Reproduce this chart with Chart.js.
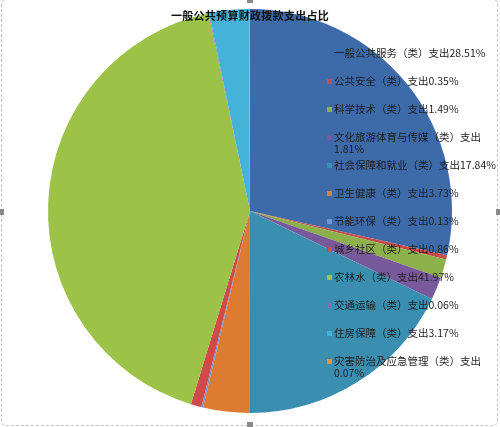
<!DOCTYPE html>
<html>
<head>
<meta charset="utf-8">
<script src="https://cdn.jsdelivr.net/npm/chart.js@4/dist/chart.umd.min.js"></script>
<style>
  html, body { margin: 0; padding: 0; background: #fff; }
  #wrap { position: relative; width: 500px; height: 427px; overflow: hidden; }
  #wrap canvas { position: absolute; left: 0; top: 0; }
  .frame { position: absolute; left: 1px; top: -1px; width: 497px; height: 427px;
           border: 1px dashed #c4c4c4; border-radius: 5px; box-sizing: border-box; }
  .handle { position: absolute; background: #8a8a8a; }
  .titulo { position: absolute; left: 0; width: 500px; top: 7px; text-align: center;
            font: bold 11px "Noto Sans CJK SC", sans-serif; color: #111; letter-spacing: 0.3px; }
  .item { position: absolute; left: 327px; width: 170px; }
  .item .mk { position: absolute; left: 0; top: 4px; width: 5px; height: 5px; }
  .item .tx { margin-left: 7px; font: 10.5px "Noto Sans CJK SC", sans-serif; line-height: 12px; color: #1e1e1e; }
</style>
</head>
<body>
<div id="wrap">
  <canvas id="grafico"></canvas>
  <div class="titulo">一般公共预算财政拨款支出占比</div>
  <div id="legenda"></div>
  <div class="frame"></div>
  <div class="handle" style="left:0;top:209px;width:4px;height:6px"></div>
  <div class="handle" style="left:496px;top:209px;width:4px;height:6px"></div>
  <div class="handle" style="left:247px;top:422px;width:6px;height:5px"></div>
  <div class="handle" style="left:247px;top:0;width:6px;height:3px"></div>
</div>
<script>
// Dados do gráfico
const categorias = [
    '一般公共服务（类）支出',
    '公共安全（类）支出',
    '科学技术（类）支出',
    '文化旅游体育与传媒（类）支出',
    '社会保障和就业（类）支出',
    '卫生健康（类）支出',
    '节能环保（类）支出',
    '城乡社区（类）支出',
    '农林水（类）支出',
    '交通运输（类）支出',
    '住房保障（类）支出',
    '灾害防治及应急管理（类）支出'
];
const percentuais = [28.51, 0.35, 1.49, 1.81, 17.84, 3.73, 0.13, 0.86, 41.97, 0.06, 3.17, 0.07];

const cores = [
    '#3d6aa9', '#c44c4a', '#8cb04a', '#785a9c', '#3a8fb0', '#dd7c31',
    '#7194d0', '#cf4a48', '#9cc248', '#8a6ab0', '#45b3d8', '#f0902f'
];

// Legenda sobreposta (texto real)
function montarLegenda() {
    const legenda = document.getElementById('legenda');
    categorias.forEach((nome, i) => {
        const item = document.createElement('div');
        item.className = 'item';
        item.style.top = (47 + 28 * i) + 'px';
        item.innerHTML = '<span class="mk" style="background:' + cores[i] + '"></span>' +
            '<div class="tx">' + nome + percentuais[i].toFixed(2) + '%</div>';
        legenda.appendChild(item);
    });
}

// Configurar gráfico de pizza
function configurarGrafico() {
    const ctx = document.getElementById('grafico').getContext('2d');
    new Chart(ctx, {
        type: 'pie',
        data: {
            labels: categorias.map((c, i) => c + percentuais[i].toFixed(2) + '%'),
            datasets: [{
                data: percentuais,
                backgroundColor: cores,
                borderWidth: 0
            }]
        },
        options: {
            responsive: true,
            maintainAspectRatio: false,
            animation: false,
            layout: { padding: { top: 9, bottom: 14, left: 48, right: 48 } },
            plugins: {
                legend: { display: false },
                tooltip: { enabled: false },
                title: { display: false }
            }
        }
    });
}

montarLegenda();
configurarGrafico();
</script>
</body>
</html>
